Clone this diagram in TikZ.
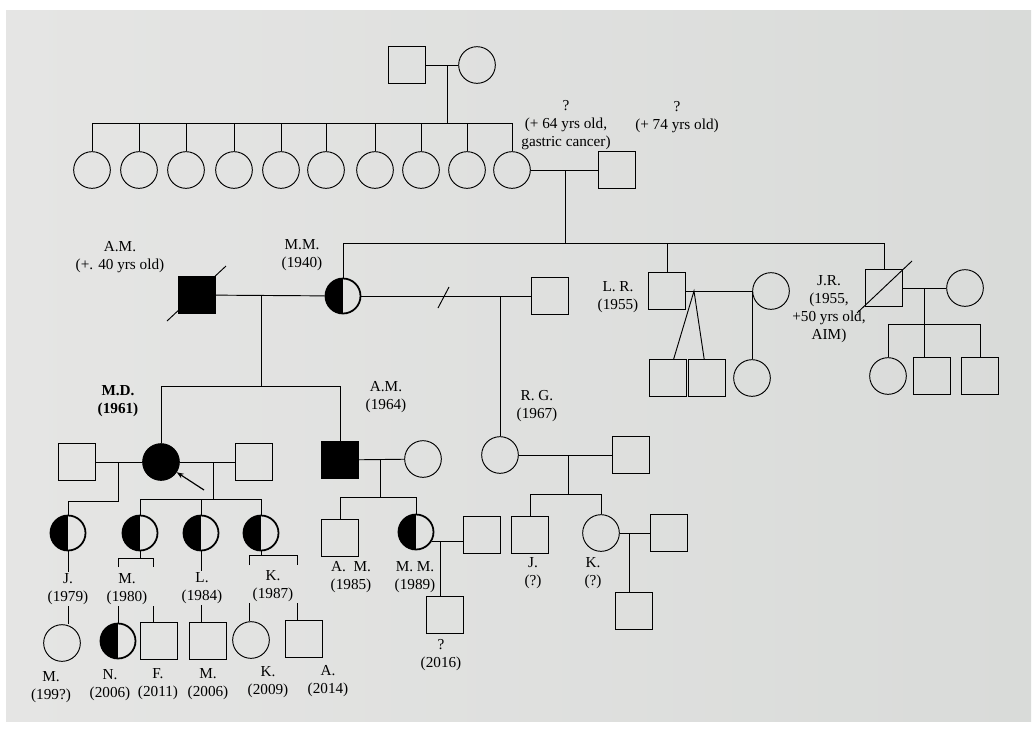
\documentclass[tikz,border=0pt]{standalone}
\usepackage{fontspec}
\setmainfont{Liberation Serif}
\usetikzlibrary{arrows.meta}
\definecolor{pgBgL}{HTML}{E5E5E4}
\definecolor{pgBgR}{HTML}{D9DBD9}

\begin{document}
\begin{tikzpicture}[x=0.03cm, y=-0.03cm, line width=0.8pt,
  every node/.style={font=\fontsize{13}{15.3}\selectfont},
  male/.style={draw, rectangle, minimum size=1.1cm, inner sep=0pt},
  female/.style={draw, circle, minimum size=1.1cm, inner sep=0pt},
  aff/.style={fill=black},
  carrier/.style={draw, circle, minimum size=1.05cm, inner sep=0pt, line width=1.5pt,
                  path picture={\fill[black] (path picture bounding box.south west)
                                rectangle (path picture bounding box.north);}},
  lbl/.style={align=center, inner sep=1pt},
  lblb/.style={lbl, font=\fontsize{13}{15.3}\selectfont\bfseries},
]
  \useasboundingbox (0,0) rectangle (1035,742);
  % screen
  \fill[white] (0,0) rectangle (1035,742);
  \shade[left color=pgBgL, right color=pgBgR] (6,10) rectangle (1031,721);

  % generation I
  \node[male] (gpa) at (407,65) {};
  \node[female] (gma) at (477,65) {};
  \draw (gpa) -- (gma);
  \coordinate (gI) at (447,65);
  \coordinate (sibII) at (447,123);
  \draw (gI) -- (sibII);

  % ten sisters
  \foreach \i/\x in {1/92,2/139,3/186,4/234,5/281,6/326,7/375,8/421,9/467,10/512}{
    \node[female] (sis\i) at (\x,170) {};
    \draw (sis\i) -- (sis\i |- sibII);
  }
  \draw (sis1 |- sibII) -- (sis10 |- sibII);

  \node[male] (gsp) at (617,170) {};
  \draw (sis10) -- (gsp);
  \coordinate (gII) at (565,170);
  \coordinate (sibIII) at (565,243);
  \draw (gII) -- (sibIII);
  \node[lbl] (lsis10) at (566,125) {?\\(+ 64 yrs old,\\gastric cancer)};
  \node[lbl] (lgsp) at (677,117) {?\\(+ 74 yrs old)};

  % generation III
  \node[male, aff] (am) at (197,295) {};
  \draw (am.center) ++(-30,26) -- ++(59,-55);
  \node[carrier] (mm) at (343,296) {};
  \draw (am) -- (mm);
  \node[male] (rgf) at (550,296) {};
  \draw (mm) -- (rgf);
  % separation mark
  \draw (438,308) -- (449,287);
  \node[male] (lr) at (667,291) {};
  \node[male] (jr) at (884,288) {};
  \draw (jr.center) ++(-27,25) -- ++(55,-52);
  \draw (mm) -- (mm |- sibIII) -- (jr |- sibIII) -- (jr);
  \draw (lr) -- (lr |- sibIII);
  \node[lbl] (lam) at (120,257) {A.M.\\(+. 40 yrs old)};
  \node[lbl] (lmm) at (302,255) {M.M.\\(1940)};
  \node[lbl] (llr) at (618,297) {L. R.\\(1955)};
  \node[lbl] (ljr) at (829,309) {J.R.\\(1955,\\+50 yrs old,\\AIM)};

  % L.R. family, twins
  \node[female] (lrw) at (771,291) {};
  \draw (lr) -- (lrw);
  \coordinate (twin) at (694,291);
  \node[male] (lrt1) at (668,378) {};
  \node[male] (lrt2) at (707,378) {};
  \draw (lrt1) -- (twin) -- (lrt2);
  \node[female] (lrd) at (752,378) {};
  \draw (lrd) -- (lrd |- lr);

  % J.R. family
  \node[female] (jrw) at (965,288) {};
  \draw (jr) -- (jrw);
  \coordinate (jrd) at (924,288);
  \coordinate (sibjr) at (924,324);
  \node[female] (jrc1) at (888,376) {};
  \node[male] (jrc2) at (932,376) {};
  \node[male] (jrc3) at (980,376) {};
  \draw (jrd) -- (jrd |- jrc2.north);
  \draw (jrc1) -- (jrc1 |- sibjr) -- (jrc3 |- sibjr) -- (jrc3);

  % generation IV
  \coordinate (amd) at (261,296);
  \coordinate (sibmd) at (261,386);
  \draw (amd) -- (sibmd);
  \node[female, aff] (md) at (161,462) {};
  \node[male, aff] (am2) at (340,460) {};
  \draw (md) -- (md |- sibmd) -- (am2 |- sibmd) -- (am2);
  \node[lblb] (lmd) at (118,401) {M.D.\\(1961)};
  \node[lbl] (lam2) at (386,397) {A.M.\\(1964)};

  \node[male] (mdh1) at (77,462) {};
  \node[male] (mdh2) at (254,462) {};
  \draw (mdh1) -- (md) -- (mdh2);

  % children of M.D.
  \node[carrier] (cj) at (68,533) {};
  \node[carrier] (cm) at (140,533) {};
  \node[carrier] (cl) at (201,533) {};
  \node[carrier] (ck) at (261,533) {};
  \coordinate (md1) at (118,462);
  \coordinate (md1b) at (118,501);
  \draw (md1) -- (md1b) -- (cj |- md1b) -- (cj);
  \coordinate (md2) at (213,462);
  \coordinate (sibc) at (213,499);
  \draw (md2) -- (sibc);
  \draw (cm) -- (cm |- sibc) -- (ck |- sibc) -- (ck);
  \draw (cl) -- (cl |- sibc);
  % proband
  \coordinate (parr) at (204,490);
  \draw[line width=1pt, -{Stealth[length=6pt,width=4.5pt]}] (parr) -- (md);

  \node[lbl] (lj) at (68,589) {J.\\(1979)};
  \node[lbl] (lm) at (127,589) {M.\\(1980)};
  \node[lbl] (ll) at (202,588) {L.\\(1984)};
  \node[lbl] (lk) at (273,586) {K.\\(1987)};
  \draw (cj) -- (lj);
  \draw (cl) -- (ll.north -| cl);
  \coordinate (mb1) at (118,558);
  \coordinate (mb2) at (153,558);
  \draw (cm) -- (cm |- mb1);
  \draw (mb1) ++(0,9) -- (mb1) -- (mb2) -- ++(0,9);
  \coordinate (kb1) at (249,555);
  \coordinate (kb2) at (297,555);
  \draw (ck) -- (ck |- kb1);
  \draw (kb1) ++(0,10) -- (kb1) -- (kb2) -- ++(0,10);

  % generation V
  \node[female] (gvm) at (62,643) {};
  \node[carrier] (gvn) at (118,641) {};
  \node[male] (gvf) at (159,641) {};
  \node[male] (gvm2) at (208,641) {};
  \node[female] (gvk) at (251,640) {};
  \node[male] (gva) at (304,639) {};
  \draw (lj) -- (lj.south |- gvm.north);
  \draw (mb1 |- lm.south) -- (gvn);
  \draw (mb2 |- lm.south) -- (mb2 |- gvf.north);
  \draw (ll.south -| cl) -- (cl |- gvm2.north);
  \draw (kb1 |- lk.south) -- (kb1 |- gvk.north);
  \draw (kb2 |- lk.south) -- (kb2 |- gva.north);
  \node[lbl] (lgvm) at (51,687) {M.\\(199?)};
  \node[lbl] (lgvn) at (110,685) {N.\\(2006)};
  \node[lbl] (lgvf) at (158,684) {F.\\(2011)};
  \node[lbl] (lgvm2) at (208,684) {M.\\(2006)};
  \node[lbl] (lgvk) at (268,682) {K.\\(2009)};
  \node[lbl] (lgva) at (328,681) {A.\\(2014)};

  % A.M. (1964) family
  \node[female] (amw) at (423,459) {};
  \draw (am2) -- (amw);
  \coordinate (amd2) at (380,460);
  \coordinate (sibam) at (380,497);
  \draw (amd2) -- (sibam);
  \node[male] (am3) at (340,538) {};
  \node[carrier] (mm2) at (416,532) {};
  \draw (am3) -- (am3 |- sibam) -- (mm2 |- sibam) -- (mm2);
  \node[lbl] (lam3) at (351,577) {A.\ \ M.\\(1985)};
  \node[lbl] (lmm2) at (415,577) {M. M.\\(1989)};
  \node[male] (mmh) at (482,535) {};
  \coordinate (mmd) at (440,541);
  \draw (mm2.-30) -- (mmh.west |- mm2.-30);
  \node[male] (mmc) at (445,615) {};
  \draw (mmd) -- (mmd |- mmc.north);
  \node[lbl] (lmmc) at (441,655) {?\\(2016)};

  % R.G. family
  \node[female] (rg) at (500,455) {};
  \draw (rg) -- (rg |- rgf);
  \node[lbl] (lrg) at (537,406) {R. G.\\(1967)};
  \node[male] (rgh) at (631,455) {};
  \draw (rg) -- (rgh);
  \coordinate (rgd) at (568,455);
  \coordinate (sibrg) at (568,494);
  \draw (rgd) -- (sibrg);
  \node[male] (rgj) at (530,535) {};
  \node[female] (rgk) at (601,533) {};
  \draw (rgj) -- (rgj |- sibrg) -- (rgk |- sibrg) -- (rgk);
  \node[lbl] (lrgj) at (533,573) {J.\\(?)};
  \node[lbl] (lrgk) at (593,573) {K.\\(?)};
  \node[male] (rgkh) at (669,533) {};
  \draw (rgk) -- (rgkh);
  \coordinate (rgkd) at (629,533);
  \node[male] (rgkc) at (634,611) {};
  \draw (rgkd) -- (rgkd |- rgkc.north);
\end{tikzpicture}
\end{document}
